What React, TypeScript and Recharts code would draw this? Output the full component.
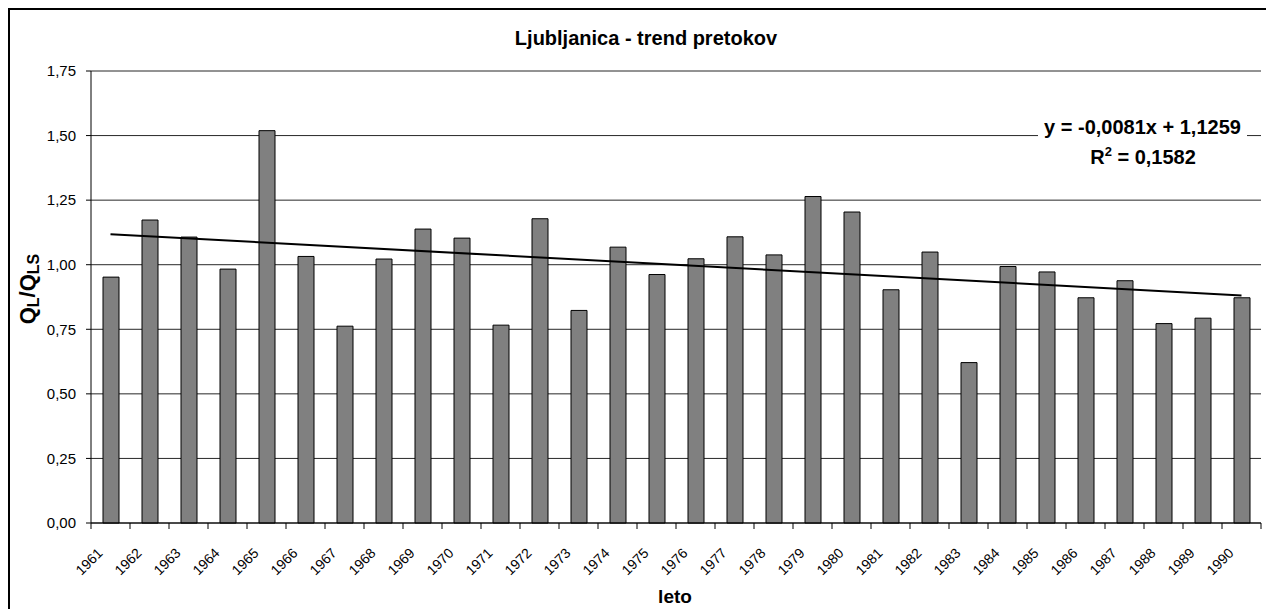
import { ComposedChart, Bar, Line, XAxis, YAxis, CartesianGrid } from 'recharts';

const years = [
  '1961', '1962', '1963', '1964', '1965', '1966', '1967', '1968', '1969', '1970',
  '1971', '1972', '1973', '1974', '1975', '1976', '1977', '1978', '1979', '1980',
  '1981', '1982', '1983', '1984', '1985', '1986', '1987', '1988', '1989', '1990',
];

const ratios = [
  0.952, 1.173, 1.107, 0.983, 1.519, 1.032, 0.762, 1.022, 1.138, 1.103,
  0.766, 1.178, 0.823, 1.068, 0.962, 1.023, 1.108, 1.038, 1.264, 1.204,
  0.903, 1.049, 0.621, 0.993, 0.972, 0.872, 0.938, 0.772, 0.793, 0.872,
];

// linear trend: only the two end points
const trendStart = 1.118;
const trendEnd = 0.881;

const yTicks = [0, 0.25, 0.5, 0.75, 1, 1.25, 1.5, 1.75];

const FONT = "Arial, 'Liberation Sans', sans-serif";

const data = years.map((y, i) => ({
  year: y,
  q: ratios[i],
  trend: i === 0 ? trendStart : i === years.length - 1 ? trendEnd : null,
}));

const fmt = (v: number) => v.toFixed(2).replace('.', ',');

function YearTick(props: any) {
  const { x, y, payload, index, visibleTicksCount } = props;
  const half = payload.offset ?? 0;
  const last = index === visibleTicksCount - 1;
  return (
    <g>
      <line x1={x - half} y1={y} x2={x - half} y2={y + 6} stroke="#000" />
      {last && <line x1={x + half} y1={y} x2={x + half} y2={y + 6} stroke="#000" />}
      <text
        x={0}
        y={0}
        transform={`translate(${x - 7},${y + 31}) rotate(-45)`}
        textAnchor="end"
        fontSize={14}
        fontFamily={FONT}
        fill="#000"
      >
        {payload.value}
      </text>
    </g>
  );
}

export default function App() {
  return (
    <div
      style={{
        position: 'relative',
        width: 1264,
        height: 599,
        borderTop: '2px solid #000',
        borderLeft: '2px solid #000',
        background: '#fff',
        fontFamily: FONT,
        overflow: 'hidden',
      }}
    >
      <div
        style={{
          position: 'absolute',
          left: 436,
          width: 400,
          top: 17,
          textAlign: 'center',
          fontSize: 20,
          lineHeight: '23px',
          fontWeight: 'bold',
        }}
      >
        Ljubljanica - trend pretokov
      </div>

      <div
        style={{
          position: 'absolute',
          left: 18,
          top: 279,
          transform: 'translate(-50%, -50%) rotate(-90deg)',
          fontSize: 22,
          lineHeight: '25px',
          fontWeight: 'bold',
          whiteSpace: 'nowrap',
        }}
      >
        Q<span style={{ fontSize: 16, position: 'relative', top: 4 }}>L</span>/Q
        <span style={{ fontSize: 16, position: 'relative', top: 4 }}>LS</span>
      </div>

      <div
        style={{
          position: 'absolute',
          left: 565,
          width: 200,
          top: 576,
          textAlign: 'center',
          fontSize: 19,
          lineHeight: '22px',
          fontWeight: 'bold',
        }}
      >
        leto
      </div>

      <ComposedChart
        width={1264}
        height={599}
        data={data}
        margin={{ top: 61, right: 13, bottom: 26, left: 21 }}
      >
        <CartesianGrid horizontal vertical={false} stroke="#000" strokeOpacity={0.85} />
        <XAxis
          dataKey="year"
          height={60}
          axisLine={{ stroke: '#000' }}
          tickLine={false}
          tickSize={0}
          tickMargin={0}
          interval={0}
          tick={<YearTick />}
        />
        <YAxis
          domain={[0, 1.75]}
          ticks={yTicks}
          width={60}
          tickFormatter={fmt}
          axisLine={{ stroke: '#000' }}
          tickLine={{ stroke: '#000' }}
          tickSize={5}
          tickMargin={10}
          tick={{ fontSize: 15, fill: '#000', fontFamily: FONT }}
        />
        <YAxis
          yAxisId="right"
          orientation="right"
          domain={[0, 1.75]}
          width={0}
          tick={false}
          tickLine={false}
          axisLine={{ stroke: '#000' }}
        />
        <Bar dataKey="q" fill="#808080" stroke="#000" strokeWidth={1} barSize={16} isAnimationActive={false} />
        <Line
          dataKey="trend"
          stroke="#000"
          strokeWidth={2}
          dot={false}
          connectNulls
          isAnimationActive={false}
        />
      </ComposedChart>

      <div
        style={{
          position: 'absolute',
          left: 1028,
          top: 106,
          width: 209,
          textAlign: 'center',
          background: '#fff',
          fontSize: 20,
          fontWeight: 'bold',
          lineHeight: '23px',
          whiteSpace: 'nowrap',
        }}
      >
        y = -0,0081x + 1,1259
      </div>
      <div
        style={{
          position: 'absolute',
          left: 1063,
          top: 136,
          width: 140,
          textAlign: 'center',
          fontSize: 20,
          fontWeight: 'bold',
          lineHeight: '23px',
          whiteSpace: 'nowrap',
        }}
      >
        R<span style={{ fontSize: 13, position: 'relative', top: -8 }}>2</span> = 0,1582
      </div>
    </div>
  );
}
